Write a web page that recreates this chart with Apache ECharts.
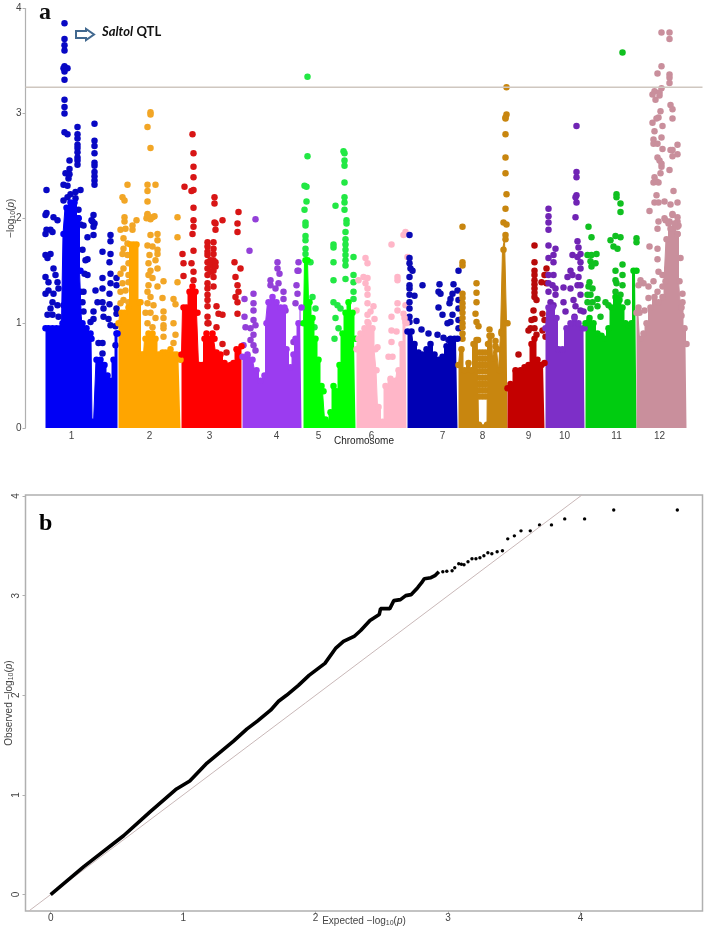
<!DOCTYPE html>
<html>
<head>
<meta charset="utf-8">
<title>Manhattan and QQ plot</title>
<script src="https://cdn.jsdelivr.net/npm/echarts@6/dist/echarts.min.js"></script>
<style>
    html, body { margin: 0; background: #fff; }
    #main { width: 708px; height: 931px; }
</style>
</head>
<body>
<div id="main"></div>
<script>
// x = cumulative genome position (plot units), y = -log10(p)
const chromLabels = ['1', '2', '3', '4', '5', '6', '7', '8', '9', '10', '11', '12'];
const chromCentres = [71, 149, 209, 276, 318, 371, 442, 482, 528, 564, 616, 659];
const threshold = 3.25;

// solid lower part of each chromosome, read as an outline
const chr1Mass = [[45,0.95],[48,0.95],[52,0.95],[56,0.95],[60,0.95],[62,1.0],[63,1.85],[66,2.1],[70,2.15],[74,2.15],[78,2.0],[80,1.5],[82,1.0],[86,0.95],[90,0.9],[91,0.85],[92,0.06],[94,0.04],[95,0.04],[96,0.65],[100,0.65],[104,0.6],[107,0.5],[110,0.45],[113,0.65],[116,0.9],[117,0.9]];
const chr2Mass = [[118,1.0],[121,1.1],[124,1.1],[128,1.15],[130,1.75],[133,1.75],[136,1.75],[139,1.2],[141,0.7],[143,0.7],[145,0.85],[148,0.9],[152,0.9],[155,0.85],[158,0.7],[162,0.72],[165,0.72],[168,0.7],[170,0.75],[173,0.7],[176,0.7],[180,0.65]];
const chr3Mass = [[181,0.7],[183,1.15],[186,1.15],[189,1.3],[192,1.35],[195,1.3],[197,1.1],[199,0.6],[202,0.6],[204,0.85],[206,0.9],[209,0.85],[212,0.9],[214,0.85],[216,0.72],[220,0.7],[224,0.62],[230,0.6],[233,0.62],[236,0.75],[241,0.78]];
const chr4Mass = [[242,0.68],[247,0.7],[252,0.65],[256,0.55],[260,0.45],[264,0.5],[266,1.0],[268,1.2],[272,1.25],[276,1.2],[280,1.15],[284,1.15],[286,0.75],[290,0.58],[293,0.7],[295,0.85],[298,1.0],[301,1.15]];
const chr5Mass = [[303,1.0],[305,1.6],[307,1.6],[309,1.2],[312,1.05],[315,0.85],[318,0.65],[321,0.4],[323,0.35],[325,0.08],[327,0.05],[330,0.15],[333,0.4],[336,0.35],[339,0.6],[342,0.9],[345,1.1],[348,1.2],[352,1.1],[355,0.85]];
const chr6Mass = [[356,0.75],[358,0.85],[360,0.9],[364,0.95],[368,1.0],[372,0.95],[375,0.75],[376,0.55],[378,0.2],[382,0.06],[385,0.4],[390,0.47],[395,0.45],[398,0.55],[401,0.8],[404,1.05],[406,1.0]];
const chr7Mass = [[407,0.92],[411,0.92],[414,0.8],[418,0.72],[422,0.7],[426,0.75],[430,0.8],[434,0.7],[438,0.65],[442,0.68],[446,0.78],[450,0.85],[454,0.85],[457,0.85]];
const chr8Mass = [[458,0.6],[461,0.75],[464,0.55],[468,0.62],[471,0.55],[473,0.8],[476,0.84],[477.5,0.84],[478.5,0.03],[486.5,0.03],[487.5,0.8],[489,0.88],[491,0.88],[493,0.66],[495,0.78],[497,0.75],[499,0.55],[501,0.9],[503,1.7],[505,1.8],[507,1.0]];
const chr9Mass = [[507,0.38],[510,0.42],[515,0.55],[520,0.55],[524,0.58],[528,0.6],[531,0.8],[534,0.85],[537,0.65],[541,0.6],[544,0.62]];
const chr10Mass = [[545,0.95],[548,1.15],[552,1.15],[556,1.05],[558,0.75],[562,0.75],[566,0.95],[570,1.0],[574,1.05],[578,1.0],[582,0.95],[584,0.95]];
const chr11Mass = [[585,1.0],[589,1.05],[593,1.0],[597,0.9],[601,0.88],[604,0.85],[608,0.95],[611,1.15],[615,1.25],[619,1.22],[622,1.15],[625,1.0],[628,0.98],[631,1.0],[633,1.5],[636,1.5]];
const chr12Mass = [[636,1.1],[638,1.15],[640,0.85],[643,0.9],[646,1.0],[650,1.15],[654,1.25],[658,1.2],[662,1.25],[665,1.4],[666,1.8],[670,1.9],[674,1.95],[677,1.85],[679,1.4],[681,1.15],[684,0.95],[686,0.8]];

// single markers standing clear of the mass
const chr1Dots = [[64,3.86],[64,3.71],[64,3.65],[64,3.6],[64,3.45],[63,3.43],[67,3.43],[64,3.4],[64,3.32],[64,3.13],[64,3.06],[64,3.0],[64,2.82],[67,2.8],[77,2.87],[77,2.8],[77,2.76],[77,2.7],[77,2.67],[77,2.63],[77,2.58],[77,2.55],[77,2.51],[94,2.9],[94,2.74],[94,2.69],[94,2.62],[94,2.53],[94,2.5],[94,2.44],[94,2.4],[94,2.36],[94,2.32],[69,2.55],[69,2.47],[65,2.43],[69,2.42],[68,2.38],[63,2.32],[67,2.31],[46,2.27],[46,2.05],[45,2.03],[53,2.01],[57,1.98],[80,2.27],[75,2.25],[70,2.23],[67,2.2],[63,2.17],[75,2.19],[78,2.08],[78,2.0],[80,1.94],[83,1.93],[91,1.98],[94,1.95],[46,1.89],[50,1.89],[45,1.85],[52,1.87],[93,2.03],[92,1.97],[93,1.92],[93,1.84],[87,1.82],[45,1.65],[50,1.66],[47,1.62],[102,1.68],[110,1.84],[110,1.78],[110,1.66],[109,1.58],[87,1.61],[87,1.46],[102,1.43],[110,1.47],[110,1.38],[116,1.43],[116,1.36],[102,1.33],[95,1.31],[109,1.28],[97,1.2],[102,1.2],[109,1.18],[103,1.14],[116,1.14],[116,1.09],[93,1.11],[93,1.04],[103,1.06],[108,1.04],[110,0.98],[90,1.01],[98,0.81],[102,0.81],[102,0.71],[115,0.97],[115,0.79],[45,1.44],[48,1.39],[53,1.52],[55,1.46],[57,1.39],[58,1.33],[45,1.28],[48,1.31],[53,1.28],[52,1.2],[50,1.14],[52,1.08],[47,1.08],[57,1.17],[63,1.17],[58,1.06],[68,1.11],[75,1.19],[82,1.2],[83,1.3],[80,1.3],[73,1.04],[78,1.04],[83,1.11],[85,1.6],[84,1.47],[82,1.7]];
const chr2Dots = [[150,3.01],[150,2.99],[147,2.87],[150,2.67],[127,2.32],[147,2.32],[155,2.32],[147,2.26],[147,2.16],[122,2.2],[124,2.17],[124,2.01],[124,1.97],[147,2.04],[154,2.02],[150,1.99],[146,2.0],[177,2.01],[136,1.98],[132,1.93],[120,1.89],[125,1.9],[132,1.89],[123,1.81],[127,1.76],[123,1.71],[127,1.65],[122,1.66],[128,1.57],[123,1.52],[120,1.47],[128,1.46],[128,1.39],[122,1.38],[120,1.3],[125,1.31],[123,1.22],[120,1.19],[128,1.2],[177,1.82],[163,1.4],[177,1.39],[162,1.24],[173,1.23],[175,1.18],[173,1.0],[175,0.89],[173,0.81],[163,1.11],[163,1.05],[163,0.98],[163,0.95],[163,0.87],[147,2.03],[152,2.01],[157,1.85],[150,1.84],[157,1.79],[147,1.74],[152,1.73],[157,1.7],[157,1.66],[149,1.65],[148,1.57],[155,1.6],[157,1.52],[150,1.5],[148,1.46],[152,1.43],[148,1.36],[157,1.35],[147,1.3],[150,1.25],[140,1.2],[147,1.19],[153,1.17],[145,1.1],[150,1.1],[155,1.05],[147,1.0],[152,0.96]];
const chr3Dots = [[184,2.3],[192,2.8],[193,2.62],[193,2.49],[193,2.39],[191,2.26],[193,2.27],[193,2.1],[193,1.98],[193,1.92],[192,1.85],[193,1.69],[214,2.2],[214,2.14],[214,1.96],[222,1.98],[215,1.95],[215,1.89],[238,2.06],[237,1.95],[237,1.87],[182,1.66],[183,1.57],[183,1.45],[191,1.57],[193,1.49],[193,1.41],[207,1.77],[207,1.73],[207,1.68],[207,1.65],[207,1.58],[207,1.52],[207,1.46],[207,1.38],[207,1.33],[207,1.27],[207,1.22],[207,1.16],[207,1.06],[207,1.0],[213,1.77],[213,1.71],[213,1.66],[213,1.6],[213,1.55],[213,1.5],[213,1.44],[213,1.35],[210,1.6],[210,1.55],[210,1.49],[215,1.58],[215,1.54],[216,1.16],[218,1.09],[222,1.08],[208,1.0],[234,1.58],[240,1.52],[235,1.44],[237,1.36],[238,1.3],[235,1.25],[237,1.2],[237,1.09],[216,0.96],[226,0.72],[222,0.8]];
const chr4Dots = [[255,1.99],[249,1.69],[277,1.58],[277,1.52],[279,1.47],[270,1.41],[278,1.38],[270,1.36],[275,1.33],[298,1.58],[297,1.5],[298,1.5],[296,1.36],[297,1.28],[283,1.3],[283,1.23],[244,1.23],[253,1.28],[253,1.19],[253,1.12],[244,1.06],[253,1.03],[245,0.96],[255,0.98],[250,0.95],[253,0.89],[250,0.84],[243,0.79],[253,0.79],[255,0.74],[295,1.19],[293,0.82],[285,1.12]];
const chr5Dots = [[307,3.35],[307,2.59],[304,2.31],[306,2.3],[306,2.16],[304,2.08],[305,1.96],[305,1.93],[343,2.64],[344,2.62],[344,2.55],[344,2.5],[344,2.34],[344,2.2],[344,2.15],[335,2.12],[344,2.08],[346,1.98],[346,1.95],[305,1.83],[305,1.79],[305,1.71],[305,1.66],[310,1.58],[312,1.25],[333,1.75],[333,1.72],[333,1.58],[333,1.41],[345,1.87],[345,1.8],[345,1.75],[345,1.7],[345,1.65],[345,1.6],[345,1.55],[345,1.42],[353,1.63],[353,1.46],[353,1.39],[353,1.3],[353,1.23],[333,1.2],[337,1.17],[340,1.14],[315,1.14],[314,0.96],[334,0.85],[338,0.95],[335,1.05]];
const chr6Dots = [[365,1.62],[367,1.57],[363,1.44],[367,1.43],[358,1.41],[365,1.38],[367,1.33],[367,1.27],[367,1.19],[373,1.16],[370,1.11],[374,1.04],[367,1.08],[367,1.01],[391,1.75],[397,1.44],[397,1.41],[397,1.19],[397,1.12],[391,1.06],[405,1.87],[403,1.84],[407,1.63],[405,1.17],[403,1.09],[405,1.01],[391,0.93],[391,0.82],[396,0.92],[377,0.77],[388,0.68],[392,0.68],[356,1.12]];
const chr7Dots = [[409,1.84],[409,1.62],[409,1.57],[410,1.52],[412,1.5],[409,1.44],[409,1.36],[409,1.33],[409,1.27],[414,1.26],[409,1.2],[409,1.14],[409,1.06],[409,1.01],[416,1.02],[422,1.36],[439,1.37],[438,1.3],[440,1.28],[453,1.37],[452,1.28],[450,1.23],[449,1.19],[458,1.5],[438,1.15],[442,1.08],[452,1.08],[450,1.01],[447,1.0],[457,1.31],[458,1.22],[458,1.14],[458,1.03],[458,0.95],[421,0.94],[428,0.9],[448,0.84],[437,0.89],[443,0.86]];
const chr8Dots = [[462,1.92],[462,1.58],[462,1.55],[462,1.28],[462,1.24],[462,1.19],[462,1.15],[462,1.1],[462,1.05],[462,1.0],[462,0.96],[462,0.9],[462,0.85],[476,1.38],[476,1.29],[476,1.2],[475,1.09],[476,1.01],[478,0.97],[489,0.94],[495,0.83],[501,0.92],[505,1.84],[506,3.25],[506,2.99],[505,2.96],[505,2.95],[505,2.8],[505,2.58],[505,2.43],[506,2.23],[505,2.09],[503,1.96],[506,1.94],[479,0.3],[482,0.3],[485,0.3],[479,0.36],[482,0.36],[485,0.36],[479,0.42],[482,0.42],[485,0.42],[479,0.48],[482,0.48],[485,0.48],[479,0.54],[482,0.54],[485,0.54],[479,0.6],[482,0.6],[485,0.6],[479,0.66],[482,0.66],[485,0.66],[479,0.72],[482,0.72],[485,0.72]];
const chr9Dots = [[518,0.7],[534,1.74],[534,1.58],[534,1.5],[534,1.46],[534,1.41],[534,1.37],[534,1.33],[534,1.29],[534,1.25],[536,1.22],[533,1.12],[534,1.04],[531,1.03],[528,0.93],[536,0.89],[546,1.52],[544,1.46],[541,1.39],[546,1.38],[542,1.09],[544,1.03],[542,0.93],[545,0.87],[530,0.95],[534,0.95]];
const chr10Dots = [[576,2.88],[576,2.44],[576,2.39],[576,2.22],[575,2.2],[576,2.15],[575,2.01],[548,2.09],[548,2.02],[548,1.96],[548,1.89],[548,1.74],[555,1.71],[553,1.65],[548,1.62],[553,1.58],[548,1.46],[553,1.46],[548,1.38],[552,1.36],[555,1.33],[548,1.3],[555,1.27],[550,1.2],[553,1.17],[577,1.78],[578,1.72],[572,1.65],[580,1.66],[577,1.63],[580,1.58],[570,1.5],[567,1.44],[580,1.52],[572,1.46],[578,1.44],[563,1.34],[570,1.33],[577,1.36],[580,1.36],[563,1.2],[580,1.27],[573,1.22],[575,1.16],[580,1.12],[583,1.11],[565,1.11],[574,1.06]];
const chr11Dots = [[622,3.58],[616,2.23],[616,2.2],[620,2.14],[620,2.06],[588,1.92],[591,1.82],[587,1.65],[591,1.65],[596,1.66],[590,1.59],[591,1.54],[595,1.57],[589,1.39],[588,1.35],[592,1.33],[587,1.27],[590,1.27],[587,1.2],[592,1.2],[597,1.23],[590,1.14],[597,1.16],[605,1.2],[608,1.17],[600,1.06],[610,1.79],[615,1.83],[620,1.82],[613,1.73],[617,1.71],[636,1.81],[636,1.77],[622,1.56],[615,1.5],[622,1.46],[615,1.41],[616,1.38],[622,1.36],[615,1.3],[620,1.27],[627,1.2]];
const chr12Dots = [[661,3.77],[669,3.77],[669,3.71],[661,3.45],[657,3.38],[669,3.37],[669,3.34],[669,3.29],[661,3.24],[654,3.21],[659,3.2],[652,3.18],[659,3.17],[655,3.13],[670,3.08],[672,3.04],[660,3.02],[672,2.95],[658,2.96],[656,2.95],[652,2.91],[662,2.88],[654,2.83],[653,2.75],[661,2.77],[653,2.71],[657,2.71],[662,2.66],[677,2.7],[670,2.65],[672,2.65],[677,2.61],[672,2.59],[657,2.58],[659,2.55],[661,2.52],[661,2.49],[669,2.46],[660,2.43],[654,2.39],[653,2.34],[656,2.35],[658,2.34],[656,2.22],[673,2.26],[654,2.15],[658,2.15],[664,2.16],[670,2.13],[677,2.15],[649,2.07],[672,2.04],[664,2.0],[669,1.97],[677,2.01],[677,1.97],[658,1.97],[657,1.9],[677,1.92],[665,1.98],[668,1.95],[672,2.03],[678,1.93],[677,1.85],[649,1.73],[657,1.71],[657,1.61],[680,1.62],[658,1.49],[662,1.46],[667,1.52],[653,1.4],[648,1.35],[643,1.38],[682,1.28],[682,1.2],[640,1.41],[638,1.36],[681,1.07],[662,1.35],[657,1.3],[648,1.24],[644,1.12],[639,1.1]];

const massColors = ['#0000f5', '#ffa500', '#ff0000', '#9b3cf0', '#00ff00', '#ffb6c8', '#0000b4', '#c8860f', '#c40000', '#7d2fc8', '#00cc10', '#c98f9c'];
const dotColors = ['#0808c4', '#f2a626', '#d81515', '#9340d8', '#22e844', '#ffb6c8', '#0a0ab4', '#c8860f', '#b80a0a', '#7024b4', '#10c020', '#c98f9c'];
const chromMass = [chr1Mass, chr2Mass, chr3Mass, chr4Mass, chr5Mass, chr6Mass, chr7Mass, chr8Mass, chr9Mass, chr10Mass, chr11Mass, chr12Mass];
const chromDots = [chr1Dots, chr2Dots, chr3Dots, chr4Dots, chr5Dots, chr6Dots, chr7Dots, chr8Dots, chr9Dots, chr10Dots, chr11Dots, chr12Dots];

// QQ panel: [expected, observed]
const qqDense = [[0,0],[0.25,0.28],[0.55,0.59],[0.75,0.83],[0.95,1.06],[1.05,1.14],[1.18,1.32],[1.28,1.43],[1.38,1.54],[1.48,1.66],[1.56,1.74],[1.66,1.85],[1.72,1.94],[1.78,2.0],[1.87,2.1],[1.95,2.2],[2.0,2.25],[2.07,2.32],[2.15,2.47],[2.21,2.54],[2.29,2.59],[2.34,2.65],[2.41,2.75],[2.48,2.81],[2.49,2.87],[2.56,2.87],[2.59,2.95],[2.64,2.96],[2.68,3.0],[2.72,3.01],[2.77,3.08],[2.8,3.13],[2.82,3.17],[2.87,3.18],[2.9,3.2],[2.93,3.24]];
const qqTail = [[2.96,3.24],[2.99,3.245],[3.03,3.25],[3.05,3.28],[3.08,3.32],[3.1,3.315],[3.12,3.31],[3.15,3.34],[3.18,3.37],[3.21,3.37],[3.24,3.38],[3.27,3.4],[3.3,3.43],[3.33,3.42],[3.37,3.44],[3.41,3.45],[3.45,3.57],[3.5,3.6],[3.55,3.65],[3.62,3.65],[3.69,3.71],[3.78,3.71],[3.88,3.77],[4.03,3.77],[4.25,3.86],[4.73,3.86]];
const qqDiagonal = [[-0.165,-0.165],[4.01,4.01]];

const axisGray = '#b0b0b0';
const labelGray = '#444';
const fontName = '"Liberation Sans", Arial, sans-serif';
const logRich = {
    t: { fontFamily: fontName, fontSize: 10, color: labelGray },
    s: { fontFamily: fontName, fontSize: 7, color: labelGray, verticalAlign: 'bottom', padding: [4, 0, 0, 0] },
    i: { fontFamily: fontName, fontSize: 10, color: labelGray, fontStyle: 'italic' }
};
const logName = '{t|−log}{s|10}{t|(}{i|p}{t|)}';

let series = [
    {
        type: 'line', xAxisIndex: 0, yAxisIndex: 0, symbol: 'none', silent: true,
        lineStyle: { color: '#cfc7c0', width: 1.5 },
        data: [[25, threshold], [702, threshold]]
    }
];
chromMass.forEach(function (mass, i) {
    series.push({
        type: 'line', xAxisIndex: 0, yAxisIndex: 0, clip: false, step: 'middle', symbol: 'circle', symbolSize: 6.5,
        showAllSymbol: true, itemStyle: { color: massColors[i] }, lineStyle: { color: massColors[i], width: 1 },
        areaStyle: { color: massColors[i], opacity: 1 }, data: mass
    });
    series.push({
        type: 'scatter', xAxisIndex: 0, yAxisIndex: 0, clip: false, symbolSize: 6.5,
        itemStyle: { color: dotColors[i], opacity: 1 }, data: chromDots[i]
    });
});
series.push(
    {
        type: 'line', xAxisIndex: 1, yAxisIndex: 1, symbol: 'none',
        lineStyle: { color: '#c9b8b8', width: 1 }, data: qqDiagonal
    },
    {
        type: 'line', xAxisIndex: 1, yAxisIndex: 1, symbol: 'none',
        lineStyle: { color: '#000', width: 3.6 }, data: qqDense
    },
    {
        type: 'scatter', xAxisIndex: 1, yAxisIndex: 1, symbolSize: 3.4,
        itemStyle: { color: '#000', opacity: 1 }, data: qqTail
    }
);

let option = {
    animation: false,
    backgroundColor: '#fff',
    grid: [
        { left: 25.5, top: 8.5, width: 677, height: 419.5, outerBoundsMode: 'none' },
        { left: 25.5, top: 495, width: 677, height: 416, outerBoundsMode: 'none', show: true, borderColor: axisGray, borderWidth: 1.5 }
    ],
    xAxis: [
        {
            gridIndex: 0, type: 'value', min: 25, max: 702,
            splitLine: { show: false }, axisLine: { show: false }, axisTick: { show: false },
            name: 'Chromosome', nameLocation: 'middle', nameGap: 8, nameMoveOverlap: false,
            nameTextStyle: { fontFamily: fontName, fontSize: 10, color: '#222' },
            axisLabel: {
                customValues: chromCentres, margin: 3, fontFamily: fontName, fontSize: 10, color: labelGray,
                formatter: function (v) { return chromLabels[chromCentres.indexOf(v)]; }
            }
        },
        {
            gridIndex: 1, type: 'value', min: -0.19, max: 4.92,
            splitLine: { show: false }, axisLine: { show: false, onZero: false },
            axisTick: { customValues: [0, 1, 2, 3, 4], length: 3, lineStyle: { color: axisGray } },
            name: 'Expected ' + logName, nameLocation: 'middle', nameGap: 5, nameMoveOverlap: false,
            nameTextStyle: { fontFamily: fontName, fontSize: 10, color: labelGray, rich: logRich },
            axisLabel: { customValues: [0, 1, 2, 3, 4], margin: 2, fontFamily: fontName, fontSize: 10, color: labelGray }
        }
    ],
    yAxis: [
        {
            gridIndex: 0, type: 'value', min: 0, max: 4, interval: 1,
            splitLine: { show: false }, axisLine: { show: true, onZero: false, lineStyle: { color: axisGray, width: 1.2 } },
            axisTick: { length: 3, lineStyle: { color: axisGray } },
            name: logName, nameLocation: 'middle', nameGap: 9, nameRotate: 90, nameMoveOverlap: false,
            nameTextStyle: { rich: logRich },
            axisLabel: { margin: 4, fontFamily: fontName, fontSize: 10, color: labelGray }
        },
        {
            gridIndex: 1, type: 'value', min: -0.165, max: 4.01,
            splitLine: { show: false }, axisLine: { show: false, onZero: false },
            axisTick: { customValues: [0, 1, 2, 3, 4], length: 3, lineStyle: { color: axisGray } },
            name: 'Observed ' + logName, nameLocation: 'middle', nameGap: 11, nameRotate: 90, nameMoveOverlap: false,
            nameTextStyle: { fontFamily: fontName, fontSize: 10, color: labelGray, rich: logRich },
            axisLabel: { customValues: [0, 1, 2, 3, 4], rotate: 90, margin: 4, fontFamily: fontName, fontSize: 10, color: labelGray }
        }
    ],
    graphic: [
        { type: 'text', left: 39, top: 1, style: { text: 'a', font: 'bold 24px "Liberation Serif", serif', fill: '#111' } },
        { type: 'text', left: 39, top: 512, style: { text: 'b', font: 'bold 24px "Liberation Serif", serif', fill: '#000' } },
        {
            type: 'polygon',
            shape: { points: [[76, 31], [86, 31], [86, 29], [94, 34.5], [86, 40], [86, 38], [76, 38]] },
            style: { fill: '#fff', stroke: '#41688f', lineWidth: 2 }
        },
        {
            type: 'text', left: 102, top: 25,
            style: {
                text: '{i|Saltol} {b|QTL}',
                rich: {
                    i: { font: 'italic bold 13px Lato, sans-serif', fill: '#111' },
                    b: { font: 'bold 13px Lato, sans-serif', fill: '#111' }
                }
            }
        }
    ],
    series: series
};

let myChart = echarts.init(document.getElementById('main'));
myChart.setOption(option);
</script>
</body>
</html>
